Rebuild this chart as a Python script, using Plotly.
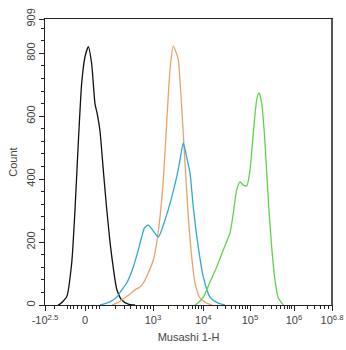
import numpy as np
import plotly.graph_objects as go

# Histogram traces on a 0-1000 display-channel axis (biexponential display)
black_x = [45.3, 52.3, 75.6, 93.0, 104.5, 116.0, 127.9, 139.4, 150.9, 162.7, 174.2, 182.2,
           191.6, 203.1, 215.0, 226.5, 238.0, 249.8, 267.3, 290.2, 313.6]
black_y = [0, 3, 26, 133, 302, 515, 706, 789, 821, 766, 639, 607,
           553, 429, 305, 200, 118, 51, 16, 3, 0]

orange_x = [233.4, 249.8, 296.2, 313.6, 331.0, 342.5, 359.9, 377.4, 389.2, 400.7, 412.2, 424.0,
            435.5, 447.0, 458.9, 464.5, 476.3, 487.8, 499.3, 511.1, 522.6, 540.1, 563.4, 581.9]
orange_y = [0, 6, 35, 48, 57, 70, 102, 143, 197, 280, 397, 578,
            747, 823, 798, 779, 629, 451, 280, 153, 70, 22, 6, 0]

cyan_x = [191.6, 203.1, 226.5, 249.8, 267.3, 284.7, 307.7, 325.1, 336.9, 346.7, 359.9, 377.4,
          394.8, 418.1, 441.5, 458.9, 470.4, 481.9, 493.7, 505.2, 516.7, 534.1, 551.6, 574.9,
          603.8, 627.2]
cyan_y = [0, 3, 10, 25, 48, 70, 121, 175, 216, 245, 254, 235,
          216, 270, 343, 407, 461, 515, 470, 420, 311, 184, 89, 25,
          6, 0]

green_x = [522.6, 528.6, 551.6, 574.9, 598.3, 621.2, 644.6, 656.1, 667.9, 679.4, 690.9, 702.8,
           714.3, 725.8, 737.6, 745.6, 755.1, 766.6, 778.0, 789.9, 801.4, 812.9, 830.3]
green_y = [0, 3, 25, 73, 121, 175, 229, 292, 366, 391, 381, 378,
           429, 547, 652, 674, 642, 515, 334, 184, 79, 22, 0]

# Axis decorations
x_tick_vals = [0, 139.4, 376.3, 551.6, 714.3, 867.6, 1000]
x_tick_text = ["-10<sup>2.5</sup>", "0", "10<sup>3</sup>", "10<sup>4</sup>",
               "10<sup>5</sup>", "10<sup>6</sup>", "10<sup>6.8</sup>"]
y_tick_vals = [0, 200, 400, 600, 800, 909]
y_tick_text = ["0", "200", "400", "600", "800", "909"]


def lin_channel(v):
    # asinh segment of the display transform around zero
    return 139.4 + 86.6 * np.arcsinh(v / 130.0)


def minor_x():
    vals = [lin_channel(v) for v in (-300, -200, -100, -80, -60, -40, -20, 20, 40, 60, 80)]
    vals += [lin_channel(v) for v in range(200, 1000, 100)]
    decades = x_tick_vals[2:6]
    for a, b in zip(decades[:-1], decades[1:]):
        vals += [a + np.log10(m) * (b - a) for m in range(2, 10)]
    span = decades[-1] - decades[-2]
    vals += [decades[-1] + np.log10(m) * span for m in range(2, 7)]
    return [float(v) for v in vals if 0 <= v <= 1000]


fig = go.Figure()
for xs, ys, col in [(black_x, black_y, "#111111"),
                    (orange_x, orange_y, "#E8A468"),
                    (cyan_x, cyan_y, "#2FA9D2"),
                    (green_x, green_y, "#62D24E")]:
    fig.add_trace(go.Scatter(x=xs, y=ys, mode="lines",
                             line=dict(color=col, width=1.3, shape="spline", smoothing=0.6),
                             hoverinfo="skip", showlegend=False))

axis_font = dict(family="Liberation Sans, Arial, sans-serif", size=11, color="#444444")

fig.update_layout(
    width=346, height=350,
    margin=dict(l=45, r=14, t=19, b=45),
    paper_bgcolor="white", plot_bgcolor="white",
    font=axis_font,
    xaxis=dict(range=[0, 1000], tickmode="array", tickvals=x_tick_vals, ticktext=x_tick_text,
               ticks="outside", ticklen=5, tickcolor="#222222", tickwidth=1,
               minor=dict(tickmode="array", tickvals=minor_x(), ticks="outside",
                          ticklen=3, tickcolor="#222222", tickwidth=1),
               showline=True, linecolor="#222222", linewidth=1, mirror=True,
               showgrid=False, zeroline=False, tickfont=axis_font, automargin=False,
               title=dict(text="Musashi 1-H", font=axis_font, standoff=8)),
    yaxis=dict(range=[0, 909], tickmode="array", tickvals=y_tick_vals, ticktext=y_tick_text,
               tickangle=-90, ticks="outside", ticklen=5, tickcolor="#222222", tickwidth=1,
               minor=dict(tickmode="linear", tick0=0, dtick=40, ticks="outside",
                          ticklen=3, tickcolor="#222222", tickwidth=1),
               showline=True, linecolor="#222222", linewidth=1, mirror=True,
               showgrid=False, zeroline=False, tickfont=axis_font, automargin=False,
               title=dict(text="Count", font=axis_font, standoff=4)),
)

# heavier right frame edge
fig.add_shape(type="line", xref="paper", yref="paper", x0=1, x1=1, y0=0, y1=1,
              line=dict(color="#555555", width=2))

fig.write_html("out.html")
